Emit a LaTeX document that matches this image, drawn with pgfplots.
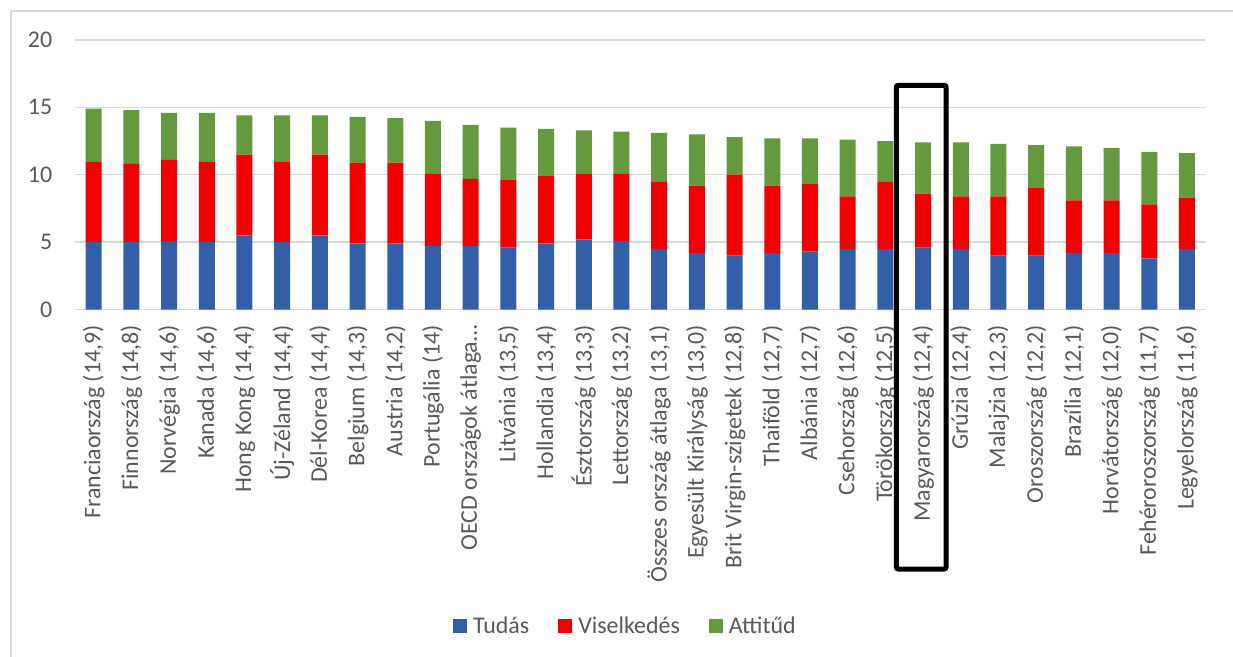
\documentclass[border=0pt]{standalone}
\usepackage{fontspec}
\setmainfont{Carlito}
\usepackage{pgfplots}
\usepackage{pgfplotstable}
\pgfplotsset{compat=1.18}

\definecolor{tudas}{HTML}{335FA9}
\definecolor{viselk}{HTML}{F20000}
\definecolor{attit}{HTML}{649A3D}
\definecolor{txt}{HTML}{595959}
\definecolor{gridc}{HTML}{D9D9D9}

% index, Tudás, Viselkedés, Attitűd
\pgfplotstableread{
x tud vis att
0  5.0 6.0 3.9
1  5.0 5.8 4.0
2  5.1 6.0 3.5
3  5.0 6.0 3.6
4  5.5 6.0 2.9
5  5.0 6.0 3.4
6  5.5 6.0 2.9
7  4.9 6.0 3.4
8  4.9 6.0 3.3
9  4.7 5.4 3.9
10 4.7 5.0 4.0
11 4.6 5.0 3.9
12 4.9 5.0 3.5
13 5.2 4.9 3.2
14 5.1 5.0 3.1
15 4.5 5.0 3.6
16 4.2 5.0 3.8
17 4.0 6.0 2.8
18 4.2 5.0 3.5
19 4.3 5.0 3.4
20 4.5 3.9 4.2
21 4.5 5.0 3.0
22 4.6 4.0 3.8
23 4.5 3.9 4.0
24 4.0 4.4 3.9
25 4.0 5.0 3.2
26 4.2 3.9 4.0
27 4.2 3.9 3.9
28 3.8 4.0 3.9
29 4.5 3.8 3.3
}\scores

\begin{document}
\begin{tikzpicture}
\useasboundingbox (0,0) rectangle (1233bp,657bp);
% chart frame (top and left edges)
\draw[gridc, line width=2bp] (11bp,0) -- (11bp,646bp) -- (1233bp,646bp);

\begin{axis}[
  at={(74.85bp,347.5bp)}, anchor=south west,
  scale only axis,
  width=1131bp, height=269.5bp,
  ybar stacked, bar width=16bp,
  xmin=-0.5, xmax=29.5,
  ymin=0, ymax=20,
  ytick={0,5,10,15,20},
  xtick=data,
  xticklabels={
    {Franciaország (14,9)},{Finnország (14,8)},{Norvégia (14,6)},{Kanada (14,6)},
    {Hong Kong (14,4)},{Új-Zéland (14,4)},{Dél-Korea (14,4)},{Belgium (14,3)},
    {Austria (14,2)},{Portugália (14)},{OECD országok átlaga…},{Litvánia (13,5)},
    {Hollandia (13,4)},{Észtország (13,3)},{Lettország (13,2)},{Összes ország átlaga (13,1)},
    {Egyesült Királyság (13,0)},{Brit Virgin-szigetek (12,8)},{Thaiföld (12,7)},{Albánia (12,7)},
    {Csehország (12,6)},{Törökország (12,5)},{Magyarország (12,4)},{Grúzia (12,4)},
    {Malajzia (12,3)},{Oroszország (12,2)},{Brazília (12,1)},{Horvátország (12,0)},
    {Fehéroroszország (11,7)},{Legyelország (11,6)}},
  major tick length=0pt,
  axis line style={draw=none},
  ymajorgrids, grid style={gridc, line width=1.5bp},
  /pgf/number format/assume math mode=true,
  tick label style={font=\fontsize{24}{28}\selectfont, text=txt, inner sep=0pt},
  yticklabel style={anchor=east, xshift=-22.5bp},
  xticklabel style={yshift=-15.5bp, rotate=90, anchor=east},
  clip=false,
  legend columns=3,
  legend style={at={(0.4886,-1.1744)}, anchor=center, draw=none,
    font=\fontsize{24}{28}\selectfont, text=txt,
    /tikz/every even column/.append style={column sep=23bp},
    nodes={inner xsep=6bp, inner ysep=0pt}},
  legend image code/.code={\fill[#1] (0bp,-7bp) rectangle (14bp,7bp);},
]
\addplot[fill=tudas, draw=none] table[x=x, y=tud] {\scores};
\addplot[fill=viselk, draw=none] table[x=x, y=vis] {\scores};
\addplot[fill=attit, draw=none] table[x=x, y=att] {\scores};
\legend{Tudás, Viselkedés, Attitűd}

% highlight around Magyarország
\draw[black, line width=5bp, rounded corners=2bp]
  (axis cs:21.29,16.64) rectangle (axis cs:22.61,-19.26);
\end{axis}
\end{tikzpicture}
\end{document}
